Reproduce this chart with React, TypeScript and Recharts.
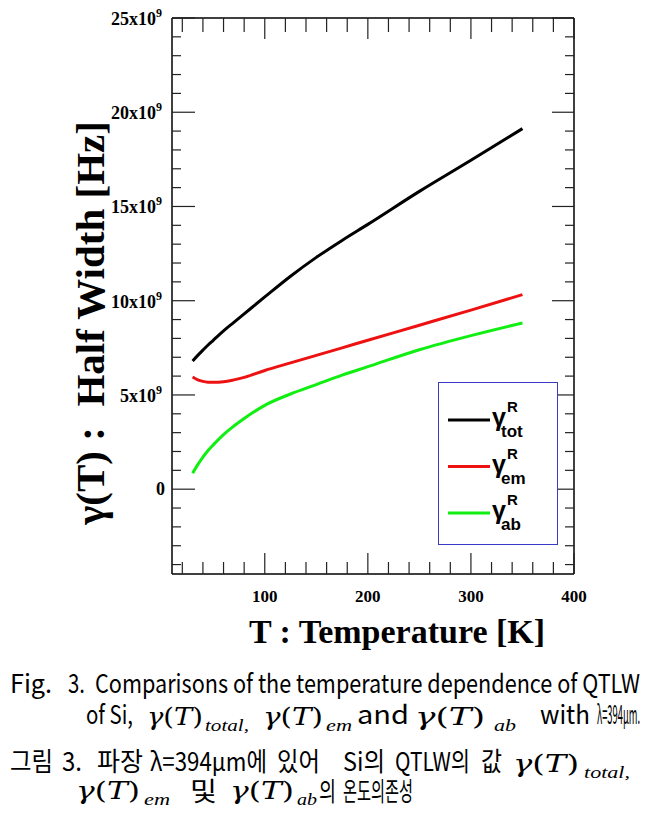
import { LineChart, Line, XAxis, YAxis, Legend } from "recharts";

// temperature (K) and half widths in units of 1e9 Hz
const temps = [30, 35, 40, 45, 50, 60, 70, 80, 100, 125, 150, 175, 200, 250, 300, 350];
const gammaTot = [6.8, 7.1, 7.38, 7.65, 7.9, 8.4, 8.85, 9.3, 10.2, 11.3, 12.3, 13.2, 14.05, 15.8, 17.45, 19.13];
const gammaEm = [5.95, 5.8, 5.72, 5.68, 5.67, 5.7, 5.8, 5.93, 6.3, 6.7, 7.1, 7.5, 7.9, 8.7, 9.5, 10.32];
const gammaAb = [0.85, 1.3, 1.7, 2.05, 2.35, 2.9, 3.35, 3.75, 4.45, 5.05, 5.55, 6.05, 6.5, 7.4, 8.15, 8.82];

const xTicks = [20, 40, 60, 80, 100, 120, 140, 160, 180, 200, 220, 240, 260, 280, 300, 320, 340, 360, 380, 400];
const yTicks = [-4, -3, -2, -1, 0, 1, 2, 3, 4, 5, 6, 7, 8, 9, 10, 11, 12, 13, 14, 15, 16, 17, 18, 19, 20, 21, 22, 23, 24, 25];

const legendItems = [
  { key: "tot", color: "#000000" },
  { key: "em", color: "#ee1111" },
  { key: "ab", color: "#11ee11" },
];

const data = temps.map((T, i) => ({ T, tot: gammaTot[i], em: gammaEm[i], ab: gammaAb[i] }));

const SERIF = "'Liberation Serif', 'Times New Roman', serif";
const MATH = "'DejaVu Serif', 'Liberation Serif', serif";
const SANS = "'Noto Sans CJK KR', 'Liberation Sans', sans-serif";

const LeftTick = (p: any) => {
  const { x, y, payload } = p;
  const v = payload.value;
  const major = v % 5 === 0;
  return (
    <g>
      <line x1={x} x2={x + (major ? 23 : 9)} y1={y} y2={y} stroke="#222" strokeWidth={1.2} />
      {major && v === 0 && (
        <text x={x - 7} y={y + 6} textAnchor="end" fontFamily={SERIF} fontWeight="bold" fontSize={18} fill="#000">0</text>
      )}
      {major && v > 0 && (
        <text x={x - 10} y={y + 7} textAnchor="end" fontFamily={SERIF} fontWeight="bold" fontSize={18} fill="#000">
          {v}x10<tspan dy={-8} fontSize={12}>9</tspan>
        </text>
      )}
    </g>
  );
};

const RightTick = (p: any) => {
  const { x, y, payload } = p;
  const major = payload.value % 5 === 0;
  return <line x1={x} x2={x - (major ? 22 : 9)} y1={y} y2={y} stroke="#222" strokeWidth={1.2} />;
};

const BottomTick = (p: any) => {
  const { x, y, payload } = p;
  const v = payload.value;
  const major = v % 100 === 0;
  return (
    <g>
      <line x1={x} x2={x} y1={y} y2={y - (major ? 21 : 12)} stroke="#222" strokeWidth={1.2} />
      {major && (
        <text x={x} y={y + 28} textAnchor="middle" fontFamily={SERIF} fontWeight="bold" fontSize={17} fill="#000">{v}</text>
      )}
    </g>
  );
};

const TopTick = (p: any) => {
  const { x, y, payload } = p;
  const major = payload.value % 100 === 0;
  return <line x1={x} x2={x} y1={y} y2={y + (major ? 21 : 14)} stroke="#222" strokeWidth={1.2} />;
};

const LegendBox = () => (
  <div style={{ width: 120, height: 163, border: "1px solid #3a3ac8", boxSizing: "border-box", background: "#fff" }}>
    <svg width={118} height={161}>
      {legendItems.map((it, i) => {
        const cy = 37 + i * 46.5;
        return (
          <g key={it.key} fontFamily="'Liberation Sans', Arial, sans-serif" fontWeight="bold" fill="#000">
            <line x1={9} x2={51} y1={cy} y2={cy} stroke={it.color} strokeWidth={3} />
            <text x={53} y={cy + 6} fontSize={25}>γ</text>
            <text x={68} y={cy - 8} fontSize={15}>R</text>
            <text x={62} y={cy + 17} fontSize={17}>{it.key}</text>
          </g>
        );
      })}
    </svg>
  </div>
);

const Gam = ({ x, y, w, sub, sx, sw }: any) => (
  <g fontFamily={MATH} fontWeight="normal" fill="#000">
    <text x={x} y={y} fontSize={25} textLength={w} lengthAdjust="spacingAndGlyphs">
      <tspan fontStyle="italic">γ</tspan>(<tspan fontStyle="italic">T</tspan>)
    </text>
    <text x={sx} y={y + 6} fontFamily={SERIF} fontSize={17} fontStyle="italic" textLength={sw} lengthAdjust="spacingAndGlyphs">{sub}</text>
  </g>
);

const Seg = ({ x, y, w, children }: any) => (
  <text x={x} y={y} fontFamily={SANS} fontSize={26} fill="#000" textLength={w} lengthAdjust="spacingAndGlyphs">
    {children}
  </text>
);

const Caption = () => (
  <svg width={660} height={819} style={{ position: "absolute", left: 0, top: 0, pointerEvents: "none" }}>
    <Seg x={10} y={693} w={42}>Fig.</Seg>
    <Seg x={68} y={693} w={17}>3.</Seg>
    <Seg x={95} y={693} w={545}>Comparisons of the temperature dependence of QTLW</Seg>

    <Seg x={86} y={724} w={47}>of Si,</Seg>
    <Gam x={147} y={725} w={56} sub="total," sx={205} sw={44} />
    <Gam x={263} y={725} w={60} sub="em" sx={326} sw={26} />
    <Seg x={357} y={724} w={52}>and</Seg>
    <Gam x={415} y={725} w={70} sub="ab" sx={494} sw={22} />
    <Seg x={540} y={724} w={50}>with</Seg>
    <Seg x={597} y={724} w={43}>λ=394μm.</Seg>

    <Seg x={10} y={771} w={43}>그림</Seg>
    <Seg x={62} y={771} w={20}>3.</Seg>
    <Seg x={97} y={771} w={46}>파장</Seg>
    <Seg x={150} y={771} w={117}>λ=394μm에</Seg>
    <Seg x={277} y={771} w={43}>있어</Seg>
    <Seg x={343} y={771} w={42}>Si의</Seg>
    <Seg x={395} y={771} w={75}>QTLW의</Seg>
    <Seg x={481} y={771} w={21}>값</Seg>
    <Gam x={513} y={772} w={66} sub="total," sx={584} sw={46} />

    <Gam x={76} y={799} w={64} sub="em" sx={144} sw={26} />
    <Seg x={190} y={801} w={27}>및</Seg>
    <Gam x={230} y={799} w={64} sub="ab" sx={297} sw={20} />
    <Seg x={319} y={801} w={17}>의</Seg>
    <Seg x={343} y={801} w={70}>온도의존성</Seg>
  </svg>
);

export default function App() {
  return (
    <div style={{ position: "absolute", left: 0, top: 0, width: 660, height: 819, background: "#fff" }}>
      <LineChart width={660} height={819} data={data} margin={{ top: 8, right: 76, bottom: 215, left: 112 }}>
        <XAxis
          xAxisId="b"
          dataKey="T"
          type="number"
          domain={[10, 400]}
          ticks={xTicks}
          interval={0}
          allowDataOverflow
          height={30}
          tickSize={0}
          tickMargin={0}
          tickLine={false}
          tick={BottomTick}
          axisLine={{ stroke: "#000", strokeWidth: 1.5 }}
          label={(p: any) => (
            <text
              x={p.viewBox.x + p.viewBox.width / 2 + 24}
              y={p.viewBox.y + 69}
              textAnchor="middle"
              fontFamily={SERIF}
              fontWeight="bold"
              fontSize={34}
              fill="#000"
            >
              T : Temperature [K]
            </text>
          )}
        />
        <XAxis
          xAxisId="t"
          orientation="top"
          dataKey="T"
          type="number"
          domain={[10, 400]}
          ticks={xTicks}
          interval={0}
          allowDataOverflow
          height={10}
          tickSize={0}
          tickMargin={0}
          tickLine={false}
          tick={TopTick}
          axisLine={{ stroke: "#000", strokeWidth: 1.5 }}
        />
        <YAxis
          yAxisId="l"
          type="number"
          domain={[-4.5, 25]}
          ticks={yTicks}
          interval={0}
          allowDataOverflow
          width={60}
          tickSize={0}
          tickMargin={0}
          tickLine={false}
          tick={LeftTick}
          axisLine={{ stroke: "#000", strokeWidth: 1.5 }}
          label={(p: any) => (
            <text
              transform={`translate(${p.viewBox.x - 8}, ${p.viewBox.y + 305}) rotate(-90)`}
              textAnchor="middle"
              fontFamily={SERIF}
              fontWeight="bold"
              fontSize={41}
              fill="#000"
              style={{ whiteSpace: "pre" }}
            >
              γ(T) :  Half Width [Hz]
            </text>
          )}
        />
        <YAxis
          yAxisId="r"
          orientation="right"
          type="number"
          domain={[-4.5, 25]}
          ticks={yTicks}
          interval={0}
          allowDataOverflow
          width={10}
          tickSize={0}
          tickMargin={0}
          tickLine={false}
          tick={RightTick}
          axisLine={{ stroke: "#000", strokeWidth: 1.5 }}
        />
        <Legend
          layout="horizontal"
          verticalAlign="middle"
          align="center"
          wrapperStyle={{ left: 438, top: 382, width: 120, height: 163 }}
          content={LegendBox}
        />
        <Line xAxisId="b" yAxisId="l" type="monotone" dataKey="tot" stroke="#000000" strokeWidth={3} dot={false} isAnimationActive={false} />
        <Line xAxisId="b" yAxisId="l" type="monotone" dataKey="em" stroke="#ee1111" strokeWidth={3} dot={false} isAnimationActive={false} />
        <Line xAxisId="b" yAxisId="l" type="monotone" dataKey="ab" stroke="#11ee11" strokeWidth={3} dot={false} isAnimationActive={false} />
      </LineChart>
      <Caption />
    </div>
  );
}
